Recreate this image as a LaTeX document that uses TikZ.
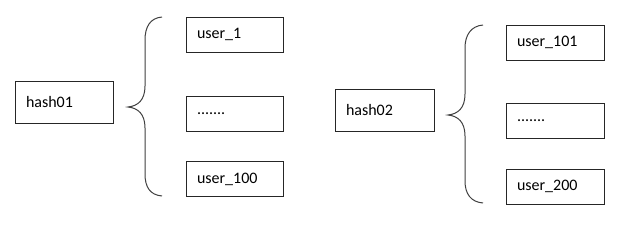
\documentclass[tikz,border=0pt]{standalone}
\usepackage{fontspec}
\setmainfont{Carlito}
\begin{document}
\begin{tikzpicture}[x=1pt,y=-1pt,
  box/.style={draw=black!85, line width=1pt, rectangle, inner xsep=11pt, inner ysep=0pt,
    minimum height=#1, align=left, font=\fontsize{16}{19}\selectfont, anchor=center},
  box/.default=35pt,
  bracepath/.style={draw=black!75, line width=1pt}]
\useasboundingbox (0,0) rectangle (640,226);
\fill[white] (0,0) rectangle (640,226);
% left group
\node[box=42pt, text width=76pt] (h1) at (64,102) {hash01};
\node[box, text width=75pt] (u1) at (234.5,34.5) {user\_1};
\node[box, text width=75pt] (d1) at (234.5,113.5) {.......};
\node[box, text width=75pt] (u100) at (234.5,179) {user\_100};
\coordinate (t1) at (128,107);
\draw[bracepath] (162,17) .. controls (150,18) and (145,27) .. (145,40)
  -- (145,86) .. controls (145,100) and (138,106) .. (t1)
  .. controls (138,108) and (145,114) .. (145,128)
  -- (145,174) .. controls (145,187) and (150,195) .. (162,196);
% right group
\node[box=42pt, text width=77pt] (h2) at (384.5,110) {hash02};
\node[box, text width=76pt] (u101) at (555,42.5) {user\_101};
\node[box, text width=76pt] (d2) at (555,120.5) {.......};
\node[box, text width=76pt] (u200) at (555,186.5) {user\_200};
\coordinate (t2) at (448,115);
\draw[bracepath] (483,25) .. controls (471,26) and (465,35) .. (465,48)
  -- (465,94) .. controls (465,108) and (458,114) .. (t2)
  .. controls (458,116) and (465,122) .. (465,136)
  -- (465,181) .. controls (465,194) and (471,202) .. (483,203);
\end{tikzpicture}
\end{document}
